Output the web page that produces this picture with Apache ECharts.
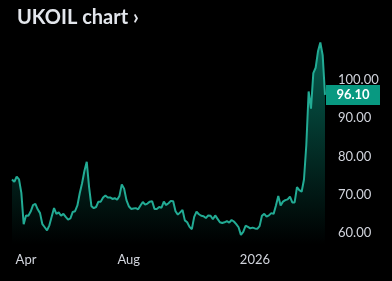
<!DOCTYPE html>
<html>
<head>
<meta charset="utf-8">
<script src="https://cdn.jsdelivr.net/npm/echarts@6/dist/echarts.min.js"></script>
<style>
html,body{margin:0;padding:0;background:#000;}
#chart{width:392px;height:281px;}
</style>
</head>
<body>
<div id="chart"></div>
<script>
// Series: UKOIL close, sampled every 2nd trading day from 2025-03-17
const startDate = '2025-03-17';
const ukoil = [
 74.0, 73.4, 74.7, 74.0, 70.5, 62.3, 64.6, 64.5, 65.6, 67.3,
 67.6, 66.2, 65.2, 62.3, 61.5, 60.7, 62.0, 64.3, 66.5, 65.0,
 65.4, 64.5, 65.0, 64.2, 63.5, 63.8, 65.5, 65.7, 67.2, 70.4,
 73.0, 76.2, 78.6, 72.0, 67.0, 66.5, 66.8, 68.2, 68.2, 69.3,
 69.8, 69.3, 69.3, 68.9, 69.1, 68.7, 69.7, 72.7, 71.6, 68.6,
 67.0, 66.3, 66.4, 66.5, 66.2, 67.2, 68.1, 67.4, 67.7, 68.2,
 68.3, 66.3, 66.3, 66.8, 66.6, 68.2, 67.3, 67.8, 68.4, 68.3,
 65.7, 64.8, 65.4, 66.0, 63.3, 62.8, 61.6, 61.0, 64.2, 65.6,
 64.9, 64.5, 64.4, 63.9, 64.6, 64.5, 63.6, 64.6, 63.7, 62.8,
 62.6, 62.8, 63.1, 62.7, 63.4, 63.0, 62.3, 61.5, 59.5, 60.3,
 61.9, 61.6, 61.2, 61.4, 61.2, 61.1, 61.8, 64.5, 65.0, 64.3,
 64.6, 65.2, 65.0, 67.2, 69.7, 67.2, 68.2, 68.6, 68.8, 69.5,
 68.0, 68.0, 72.0, 71.2, 70.8, 74.0, 83.0, 97.0, 92.5, 101.8,
 103.2, 107.5, 109.8, 106.5, 96.1
];
const yTicks = [60, 70, 80, 90, 100];
// month labels shown on the x axis: key = 'YYYY-MM', value = label
const monthLabels = {'2025-04': 'Apr', '2025-08': 'Aug', '2026-01': '2026'};
const titleText = 'UKOIL chart \u203A';

// build category dates: every 2nd weekday from startDate
const categories = [];
(function () {
  const d = new Date(startDate + 'T00:00:00Z');
  let wd = 0;
  while (categories.length < ukoil.length) {
    const day = d.getUTCDay();
    if (day !== 0 && day !== 6) {
      if (wd % 2 === 0) categories.push(d.toISOString().slice(0, 10));
      wd++;
    }
    d.setUTCDate(d.getUTCDate() + 1);
  }
})();
const labelIdx = {};
const seen = {};
categories.forEach((c, i) => {
  const m = c.slice(0, 7);
  if (monthLabels[m] && !seen[m]) { seen[m] = true; labelIdx[i] = monthLabels[m]; }
});

const last = ukoil.length - 1;
const chart = echarts.init(document.getElementById('chart'), null, {renderer: 'canvas'});
chart.setOption({
  backgroundColor: '#000000',
  animation: false,
  title: {
    text: titleText, left: 12, top: 3,
    textStyle: {color: '#e3e6ec', fontSize: 20, fontWeight: 'bold', fontFamily: 'Lato'}
  },
  grid: {left: 12, right: 67, top: 3.5, bottom: 9.75, containLabel: false},
  xAxis: {
    type: 'category', data: categories, boundaryGap: false,
    offset: -20,
    axisLine: {show: false}, axisTick: {show: false}, splitLine: {show: false},
    axisLabel: {
      interval: (i) => labelIdx[i] !== undefined,
      formatter: (v, i) => labelIdx[i] || '',
      color: '#d1d4dc', fontSize: 13, fontFamily: 'Lato', margin: 2
    }
  },
  yAxis: {
    type: 'value', position: 'right', min: 50, max: 120, interval: 10,
    axisLine: {show: false}, axisTick: {show: false}, splitLine: {show: false},
    axisLabel: {
      formatter: (v) => yTicks.indexOf(v) >= 0 ? v.toFixed(2) : '',
      color: '#d1d4dc', fontSize: 13, fontFamily: 'Lato', margin: 13
    }
  },
  series: [{
    type: 'line', data: ukoil, showSymbol: false, symbol: 'none',
    lineStyle: {color: '#22ab94', width: 2},
    areaStyle: {
      origin: 57,
      color: new echarts.graphic.LinearGradient(0, 0, 0, 1, [
        {offset: 0, color: 'rgba(8,153,129,0.9)'},
        {offset: 1, color: 'rgba(8,153,129,0.0)'}
      ])
    },
    markPoint: {
      symbol: 'rect', symbolSize: [54, 20], symbolOffset: [28, 0],
      itemStyle: {color: '#089981'},
      label: {
        show: true, position: 'inside', color: '#ffffff', fontSize: 13,
        fontWeight: 'bold', fontFamily: 'Lato',
        formatter: (p) => p.value.toFixed(2)
      },
      data: [{coord: [last, ukoil[last]], value: ukoil[last]}]
    }
  }]
});
</script>
</body>
</html>
